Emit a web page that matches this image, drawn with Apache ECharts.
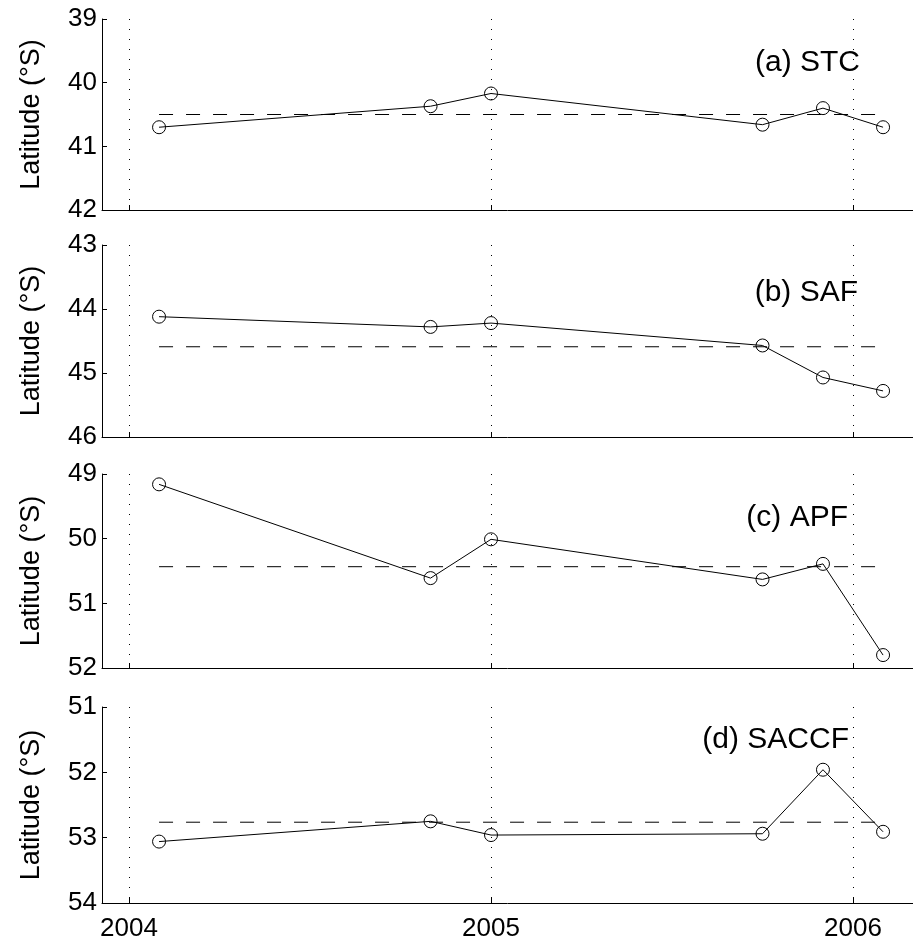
<!DOCTYPE html>
<html>
<head>
<meta charset="utf-8">
<script src="https://cdn.jsdelivr.net/npm/echarts@6/dist/echarts.min.js"></script>
<style>
  html, body { margin: 0; padding: 0; background: #fff; }
  #chart { width: 913px; height: 944px; }
</style>
</head>
<body>
<div id="chart"></div>
<script>
// survey dates (decimal years) shared by all four fronts
var dates = [2004.083, 2004.833, 2005.0, 2005.75, 2005.917, 2006.083];
var yearTicks = [2004, 2005, 2006];

var stc = [40.70, 40.37, 40.17, 40.66, 40.40, 40.70];
var saf = [44.12, 44.28, 44.22, 44.57, 45.07, 45.28];
var apf = [49.16, 50.61, 50.01, 50.63, 50.39, 51.80];
var saccf = [53.06, 52.75, 52.96, 52.94, 51.96, 52.91];

var panelNames = ['(a) STC', '(b) SAF', '(c) APF', '(d) SACCF'];
var panelValues = [stc, saf, apf, saccf];
var yRanges = [[39, 42], [43, 46], [49, 52], [51, 54]];

var font = 'Liberation Sans, Arial, Helvetica, sans-serif';
var tops = [19, 245, 474, 707];
var heights = [191, 192, 194, 196];
var titlePos = [[860, 63], [858, 293], [848, 518], [849, 740]];

function mean(arr) {
  var s = 0;
  arr.forEach(function (v) { s += v; });
  return s / arr.length;
}

var grids = [], xAxes = [], yAxes = [], series = [], texts = [];

panelValues.forEach(function (vals, i) {
  grids.push({ left: 102, right: 0, top: tops[i], height: heights[i] });
  xAxes.push({
    type: 'value', gridIndex: i,
    min: 2003.9254, max: 2006.1657,
    axisLine: { lineStyle: { color: '#000', width: 1 } },
    axisTick: { show: true, inside: true, length: 5, customValues: yearTicks,
                lineStyle: { color: '#000' } },
    axisLabel: { show: i === 3, customValues: yearTicks, color: '#000',
                 fontFamily: font, fontSize: 26, margin: 13,
                 formatter: function (v) { return String(Math.round(v)); } },
    splitLine: { show: true, lineStyle: { color: '#000', width: 1, type: [1, 9] } }
  });
  yAxes.push({
    type: 'value', gridIndex: i, inverse: true,
    min: yRanges[i][0], max: yRanges[i][1], interval: 1,
    name: 'Latitude (\u00b0S)', nameLocation: 'middle', nameRotate: 90, nameGap: 57,
    nameTextStyle: { color: '#000', fontFamily: font, fontSize: 27 },
    axisLine: { show: true, lineStyle: { color: '#000', width: 1 } },
    axisTick: { show: true, inside: true, length: 5, lineStyle: { color: '#000' } },
    axisLabel: { color: '#000', fontFamily: font, fontSize: 26, margin: 5 },
    splitLine: { show: false }
  });

  var m = mean(vals);
  series.push({
    type: 'line', xAxisIndex: i, yAxisIndex: i,
    data: [[dates[0], m], [dates[dates.length - 1], m]],
    symbol: 'none', silent: true,
    lineStyle: { color: '#000', width: 1, type: [14, 13] }
  });
  series.push({
    type: 'line', xAxisIndex: i, yAxisIndex: i,
    data: dates.map(function (d, k) { return [d, vals[k]]; }),
    symbol: 'circle', symbolSize: 13,
    itemStyle: { color: 'rgba(0,0,0,0)', borderColor: '#000', borderWidth: 1 },
    lineStyle: { color: '#000', width: 1 },
    emphasis: { disabled: true }
  });

  texts.push({
    type: 'text', x: titlePos[i][0], y: titlePos[i][1],
    style: { text: panelNames[i], fill: '#000', font: '30px ' + font,
             textAlign: 'right', textVerticalAlign: 'middle' }
  });
});

var chart = echarts.init(document.getElementById('chart'));
chart.setOption({
  animation: false,
  backgroundColor: '#fff',
  grid: grids,
  xAxis: xAxes,
  yAxis: yAxes,
  series: series,
  graphic: texts
});
</script>
</body>
</html>
